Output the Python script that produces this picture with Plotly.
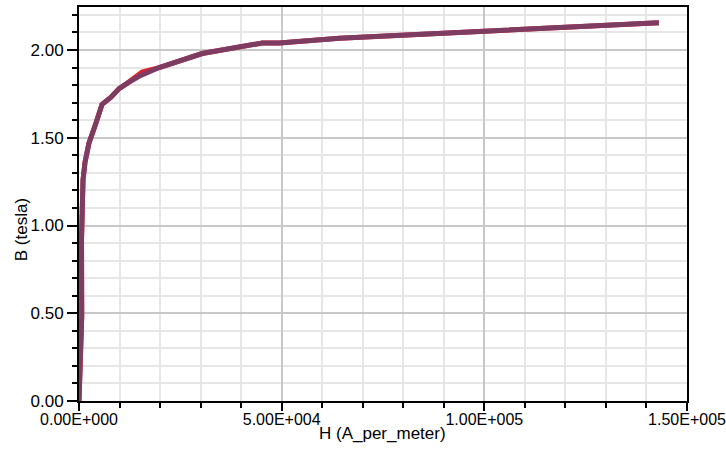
import plotly.graph_objects as go

# B-H curve (purple, fitted) and underlying red curve
H_values = [0, 370, 670, 620, 820, 990, 1480, 2470, 4130, 5680, 7830, 9880, 11860,
            14830, 19770, 30390, 45220, 49420, 64250, 100570, 118600, 143070]
B_values = [0.0, 0.44, 0.48, 0.92, 1.15, 1.26, 1.36, 1.47, 1.58, 1.69, 1.73, 1.78, 1.81,
            1.85, 1.90, 1.98, 2.04, 2.04, 2.067, 2.11, 2.133, 2.155]

H_red = [0, 370, 670, 620, 820, 990, 1480, 2470, 4130, 5680, 7830, 9880, 11860,
         15570, 19770, 30390, 45220, 49420, 64250, 100570, 118600, 143070]
B_red = [0.0, 0.44, 0.48, 0.92, 1.15, 1.26, 1.36, 1.47, 1.58, 1.69, 1.73, 1.78, 1.81,
         1.874, 1.90, 1.98, 2.04, 2.04, 2.067, 2.11, 2.133, 2.155]

x_tickvals = [0, 50000, 100000, 150000]
x_ticktext = ["0.00E+000", "5.00E+004", "1.00E+005", "1.50E+005"]
y_tickvals = [0, 0.5, 1.0, 1.5, 2.0]
y_ticktext = ["0.00", "0.50", "1.00", "1.50", "2.00"]

x_title = "H (A_per_meter)"
y_title = "B (tesla)"

FONT = "Arial, Liberation Sans, sans-serif"

fig = go.Figure()
fig.add_trace(go.Scatter(x=H_red, y=B_red, mode="lines",
                         line=dict(color="#e0202a", width=5), showlegend=False,
                         hoverinfo="skip"))
fig.add_trace(go.Scatter(x=H_values, y=B_values, mode="lines",
                         line=dict(color="#7d3d63", width=5), showlegend=False,
                         hoverinfo="skip"))

fig.update_layout(
    width=726, height=451,
    margin=dict(l=79, r=39, t=7, b=50),
    paper_bgcolor="white", plot_bgcolor="white",
    font=dict(family=FONT, color="black"),
    showlegend=False,
)

fig.update_xaxes(
    range=[0, 150000], automargin=False,
    tickvals=x_tickvals, ticktext=x_ticktext,
    tickfont=dict(size=16, family=FONT),
    ticklabeloverflow="allow", ticklabelstandoff=-5,
    ticks="outside", ticklen=8, tickwidth=2, tickcolor="black",
    showline=True, linecolor="black", linewidth=2, mirror=True,
    showgrid=True, gridcolor="#c8c8c8", gridwidth=2,
    zeroline=False,
    minor=dict(dtick=10000, tick0=0, ticks="outside", ticklen=5, tickwidth=1.5,
               tickcolor="black", showgrid=True, gridcolor="#e6e6e6", gridwidth=2),
)
fig.update_yaxes(
    range=[0, 2.245], automargin=False,
    tickvals=y_tickvals, ticktext=y_ticktext,
    tickfont=dict(size=17, family=FONT),
    ticklabeloverflow="allow",
    ticks="outside", ticklen=10, tickwidth=2, tickcolor="black",
    showline=True, linecolor="black", linewidth=2, mirror=True,
    showgrid=True, gridcolor="#c8c8c8", gridwidth=2,
    zeroline=False,
    minor=dict(dtick=0.1, tick0=0, ticks="outside", ticklen=5, tickwidth=1.5,
               tickcolor="black", showgrid=True, gridcolor="#e6e6e6", gridwidth=2),
)

fig.add_annotation(text=x_title, xref="paper", yref="paper", x=0.4995, y=-0.054,
                   xanchor="center", yanchor="top", showarrow=False,
                   font=dict(size=17, family=FONT, color="black"))
fig.add_annotation(text=y_title, xref="paper", yref="paper", x=-0.095, y=0.434,
                   xanchor="center", yanchor="middle", textangle=-90, showarrow=False,
                   font=dict(size=17, family=FONT, color="black"))

fig.write_html("out.html", config={"displayModeBar": False},
               post_script="document.body.style.margin='0';document.body.style.overflow='hidden';")
